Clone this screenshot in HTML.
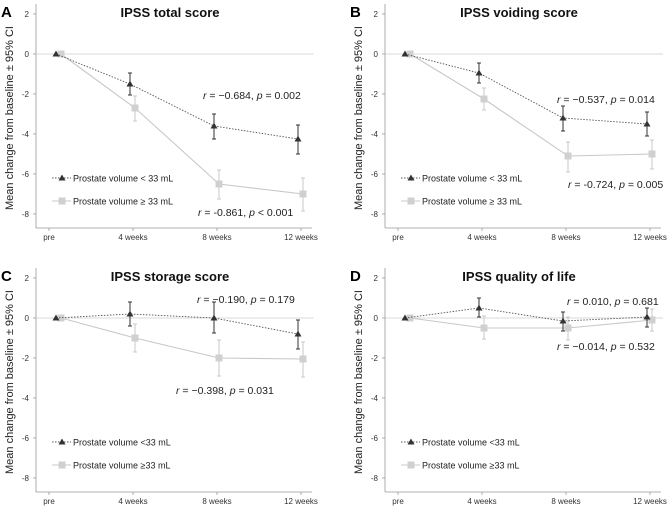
<!DOCTYPE html>
<html><head><meta charset="utf-8"><style>
body{margin:0;background:#fff;}
svg{display:block;font-family:"Liberation Sans",Arial,sans-serif;}
</style></head><body>
<svg id="fig" width="668" height="509" viewBox="0 0 668 509"></svg>
<script>
const categories = ["pre","4 weeks","8 weeks","12 weeks"];
const yTicks = [2,0,-2,-4,-6,-8];
const yTickLabels = ["2","0","-2","-4","-6","-8"];
const titles = ["IPSS total score","IPSS voiding score","IPSS storage score","IPSS quality of life"];
const letters = ["A","B","C","D"];
// triangle series (< 33 mL)
const triMean = [[0,-1.5,-3.6,-4.25],[0,-0.95,-3.2,-3.5],[0,0.2,0.0,-0.8],[0,0.5,-0.15,0.05]];
const triHi = [[0,-0.95,-3.0,-3.55],[0,-0.45,-2.6,-2.9],[0,0.8,0.8,-0.1],[0,1.0,0.3,0.5]];
const triLo = [[0,-2.05,-4.25,-5.0],[0,-1.45,-3.85,-4.1],[0,-0.4,-0.75,-1.55],[0,0.05,-0.65,-0.45]];
// square series (>= 33 mL)
const sqMean = [[0,-2.7,-6.5,-7.0],[0,-2.25,-5.1,-5.0],[0,-1.0,-2.0,-2.05],[0,-0.5,-0.5,-0.1]];
const sqHi = [[0,-2.1,-5.8,-6.2],[0,-1.7,-4.4,-4.3],[0,-0.3,-1.1,-1.2],[0,0.1,0.05,0.45]];
const sqLo = [[0,-3.35,-7.25,-7.85],[0,-2.8,-5.9,-5.75],[0,-1.7,-2.9,-2.95],[0,-1.05,-1.1,-0.65]];
const annTop = ["−0.684, ","−0.537, ","−0.190, ","0.010, "];
const annTopP = ["= 0.002","= 0.014","= 0.179","= 0.681"];
const annBot = ["-0.861, ","-0.724, ","−0.398, ","−0.014, "];
const annBotP = ["< 0.001","= 0.005","= 0.031","= 0.532"];
const legTri = ["Prostate volume < 33 mL","Prostate volume < 33 mL","Prostate volume <33 mL","Prostate volume <33 mL"];
const legSq = ["Prostate volume ≥ 33 mL","Prostate volume ≥ 33 mL","Prostate volume ≥33 mL","Prostate volume ≥33 mL"];

const NS="http://www.w3.org/2000/svg";
const svg=document.getElementById('fig');
function mk(tag,attrs,parent,text){const e=document.createElementNS(NS,tag);for(const k in attrs)e.setAttribute(k,attrs[k]);if(text!==undefined)e.textContent=text;(parent||svg).appendChild(e);return e;}

const panelOff=[[0,0],[349,0],[0,264],[349,264]];
const annPos=[[203,95,198,212],[557,99,568,184],[197,299,176,390],[567,301,557,346]];

for(let p=0;p<4;p++){
  const [ox,oy]=panelOff[p];
  const g=mk('g',{},svg);
  
  
  const ys=v=>oy+54-20*v;
  const xs=i=>ox+49+84*i;
  const px=i=>xs(i)+(i===0?10:0);
  const ax=mk('line',{x1:ox+36,y1:oy+4,x2:ox+36,y2:oy+228,stroke:'#999','stroke-width':0.8},g);
  
  const bx=mk('line',{x1:ox+36,y1:oy+228,x2:ox+312,y2:oy+228,stroke:'#999','stroke-width':0.8},g);
  
  const zl=mk('line',{x1:ox+36,y1:ys(0),x2:ox+314,y2:ys(0),stroke:'#ccc','stroke-width':0.8},g);
  
  yTicks.forEach((t,k)=>{
    mk('line',{x1:ox+33,y1:ys(t),x2:ox+36,y2:ys(t),stroke:'#999','stroke-width':0.8},g);
    const tl=mk('text',{x:ox+29,y:ys(t)+3,'font-size':8,'text-anchor':'end',fill:'#333'},g,yTickLabels[k]);
    
  });
  categories.forEach((c,i)=>{
    mk('line',{x1:xs(i),y1:oy+228,x2:xs(i),y2:oy+231,stroke:'#999','stroke-width':0.8},g);
    const tl=mk('text',{x:xs(i),y:oy+240,'font-size':8,'text-anchor':'middle',fill:'#333'},g,c);
    
  });
  const yt=mk('text',{x:0,y:0,'font-size':11,'text-anchor':'middle',fill:'#222',transform:`translate(${ox+13},${oy+118}) rotate(-90)`},g,'Mean change from baseline ± 95% CI');
  
  const tt=mk('text',{x:ox+170,y:oy+17,'font-size':13,'font-weight':'bold','text-anchor':'middle',fill:'#111'},g,titles[p]);
  
  const lt=mk('text',{x:ox+1,y:oy+17,'font-size':15,'font-weight':'bold',fill:'#000'},g,letters[p]);
  
  const sqX=i=>px(i)+2, trX=i=>px(i)-3;
  const sl=mk('polyline',{points:sqMean[p].map((v,i)=>sqX(i)+','+ys(v)).join(' '),fill:'none',stroke:'#c8c8c8','stroke-width':1.1},g);
  
  sqMean[p].forEach((v,i)=>{
    if(i>0){
      const x=sqX(i);
      mk('line',{x1:x,y1:ys(sqHi[p][i]),x2:x,y2:ys(sqLo[p][i]),stroke:'#c8c8c8','stroke-width':1},g);
      mk('line',{x1:x-2,y1:ys(sqHi[p][i]),x2:x+2,y2:ys(sqHi[p][i]),stroke:'#c8c8c8','stroke-width':1},g);
      mk('line',{x1:x-2,y1:ys(sqLo[p][i]),x2:x+2,y2:ys(sqLo[p][i]),stroke:'#c8c8c8','stroke-width':1},g);
    }
    const m=mk('rect',{x:sqX(i)-3.5,y:ys(v)-3.5,width:7,height:7,fill:'#d0d0d0'},g);
    
  });
  const tl2=mk('polyline',{points:triMean[p].map((v,i)=>trX(i)+','+ys(v)).join(' '),fill:'none',stroke:'#555','stroke-width':0.9,'stroke-dasharray':'1.5,1.5'},g);
  
  triMean[p].forEach((v,i)=>{
    if(i>0){
      const x=trX(i);
      mk('line',{x1:x,y1:ys(triHi[p][i]),x2:x,y2:ys(triLo[p][i]),stroke:'#333','stroke-width':1},g);
      mk('line',{x1:x-2,y1:ys(triHi[p][i]),x2:x+2,y2:ys(triHi[p][i]),stroke:'#333','stroke-width':1},g);
      mk('line',{x1:x-2,y1:ys(triLo[p][i]),x2:x+2,y2:ys(triLo[p][i]),stroke:'#333','stroke-width':1},g);
    }
    const x=trX(i),y=ys(v);
    const m=mk('polygon',{points:`${x},${y-3.5} ${x-3.5},${y+2.5} ${x+3.5},${y+2.5}`,fill:'#333'},g);
    
  });
  const [ax1,ay1,ax2,ay2]=annPos[p];
  const a1=mk('text',{x:ax1,y:ay1+4,'font-size':10.5,fill:'#222'},g);
  
  mk('tspan',{'font-style':'italic'},a1,'r');mk('tspan',{},a1,' = '+annTop[p]);mk('tspan',{'font-style':'italic'},a1,'p');mk('tspan',{},a1,' '+annTopP[p]);
  const a2=mk('text',{x:ax2,y:ay2+4,'font-size':10.5,fill:'#222'},g);
  
  mk('tspan',{'font-style':'italic'},a2,'r');mk('tspan',{},a2,' = '+annBot[p]);mk('tspan',{'font-style':'italic'},a2,'p');mk('tspan',{},a2,' '+annBotP[p]);
  const lx=ox+52, ly1=oy+178, ly2=oy+201;
  const lg=mk('g',{},g);
  
  mk('line',{x1:lx,y1:ly1,x2:lx+19,y2:ly1,stroke:'#555','stroke-width':0.9,'stroke-dasharray':'1.5,1.5'},lg);
  mk('polygon',{points:`${lx+10},${ly1-3.5} ${lx+6.5},${ly1+2.5} ${lx+13.5},${ly1+2.5}`,fill:'#333'},lg);
  const le1=mk('text',{x:lx+21,y:ly1+3.5,'font-size':9,fill:'#222'},lg,legTri[p]);
  
  mk('line',{x1:lx,y1:ly2,x2:lx+19,y2:ly2,stroke:'#c8c8c8','stroke-width':1.1},lg);
  mk('rect',{x:lx+6.5,y:ly2-3.5,width:7,height:7,fill:'#d0d0d0'},lg);
  const le2=mk('text',{x:lx+21,y:ly2+3.5,'font-size':9,fill:'#222'},lg,legSq[p]);
  
}
</script>
</body></html>
